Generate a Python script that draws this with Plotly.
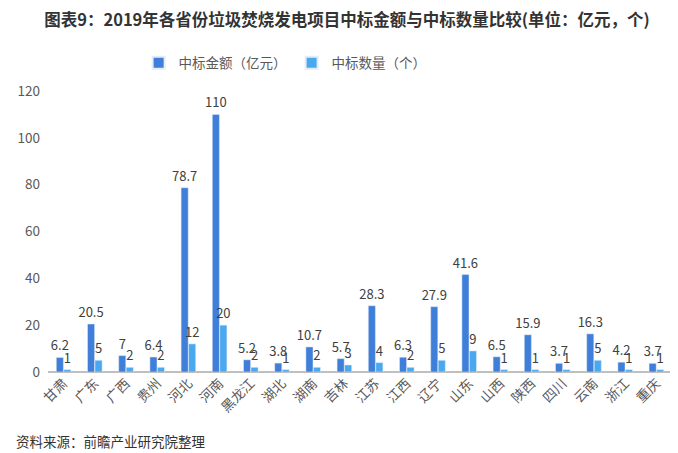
import plotly.graph_objects as go

provinces = ["甘肃", "广东", "广西", "贵州", "河北", "河南", "黑龙江", "湖北", "湖南", "吉林",
             "江苏", "江西", "辽宁", "山东", "山西", "陕西", "四川", "云南", "浙江", "重庆"]
amount = [6.2, 20.5, 7, 6.4, 78.7, 110, 5.2, 3.8, 10.7, 5.7, 28.3, 6.3, 27.9, 41.6, 6.5, 15.9, 3.7, 16.3, 4.2, 3.7]
count = [1, 5, 2, 2, 12, 20, 2, 1, 2, 3, 4, 2, 5, 9, 1, 1, 1, 5, 1, 1]
y_ticks = [0, 20, 40, 60, 80, 100, 120]

font_family = "Noto Sans CJK SC, Microsoft YaHei, sans-serif"

fig = go.Figure()
fig.add_trace(go.Bar(
    x=provinces, y=amount, name="中标金额（亿元）",
    marker_color="#3F7FDA",
    text=[f"{v:g}" for v in amount], textposition="outside", cliponaxis=False,
    constraintext="none",
    textfont=dict(size=13, color="#404040"),
))
fig.add_trace(go.Bar(
    x=provinces, y=count, name="中标数量（个）",
    marker_color="#4AA9EE",
    text=[f"{v:g}" for v in count], textposition="outside", cliponaxis=False,
    constraintext="none",
    textfont=dict(size=13, color="#404040"),
))

fig.update_layout(
    width=678, height=453,
    paper_bgcolor="white", plot_bgcolor="white",
    font=dict(family=font_family, color="#595959"),
    margin=dict(l=40, r=14, t=83, b=89, autoexpand=False),
    barmode="group", bargap=0.52, bargroupgap=0.05,
    title=dict(text="<b>图表9：2019年各省份垃圾焚烧发电项目中标金额与中标数量比较(单位：亿元，个)</b>",
               x=0.5, xanchor="center", y=0.985, yanchor="top",
               font=dict(size=16.5, color="#333333", family=font_family)),
    legend=dict(orientation="h", x=0.38, xanchor="center", y=1.1, yanchor="middle",
                font=dict(size=13.5, color="#595959"), traceorder="normal",
                itemsizing="constant"),
    uniformtext=dict(mode=False),
    xaxis=dict(tickangle=-45, tickfont=dict(size=13.5, color="#595959"),
               showline=False, showgrid=False, ticks=""),
    yaxis=dict(range=[0, 120], tickvals=y_ticks, showgrid=False, zeroline=True,
               zerolinecolor="#BFBFBF", zerolinewidth=1.5, showline=False,
               tickfont=dict(size=13.5, color="#595959"), ticks="", ticklabelstandoff=7),
    annotations=[dict(text="资料来源：前瞻产业研究院整理", x=0, y=0,
                      xref="paper", yref="paper",
                      xanchor="left", yanchor="middle", showarrow=False,
                      font=dict(size=13.5, color="#333333", family=font_family))],
)
# place the source note in figure pixel terms via paper fractions
plot_w = 678 - 40 - 14
plot_h = 453 - 83 - 89
fig.layout.annotations[0].update(x=(6 - 40) / plot_w, y=(453 - 433 - 89) / plot_h)

fig.write_html("out.html")
